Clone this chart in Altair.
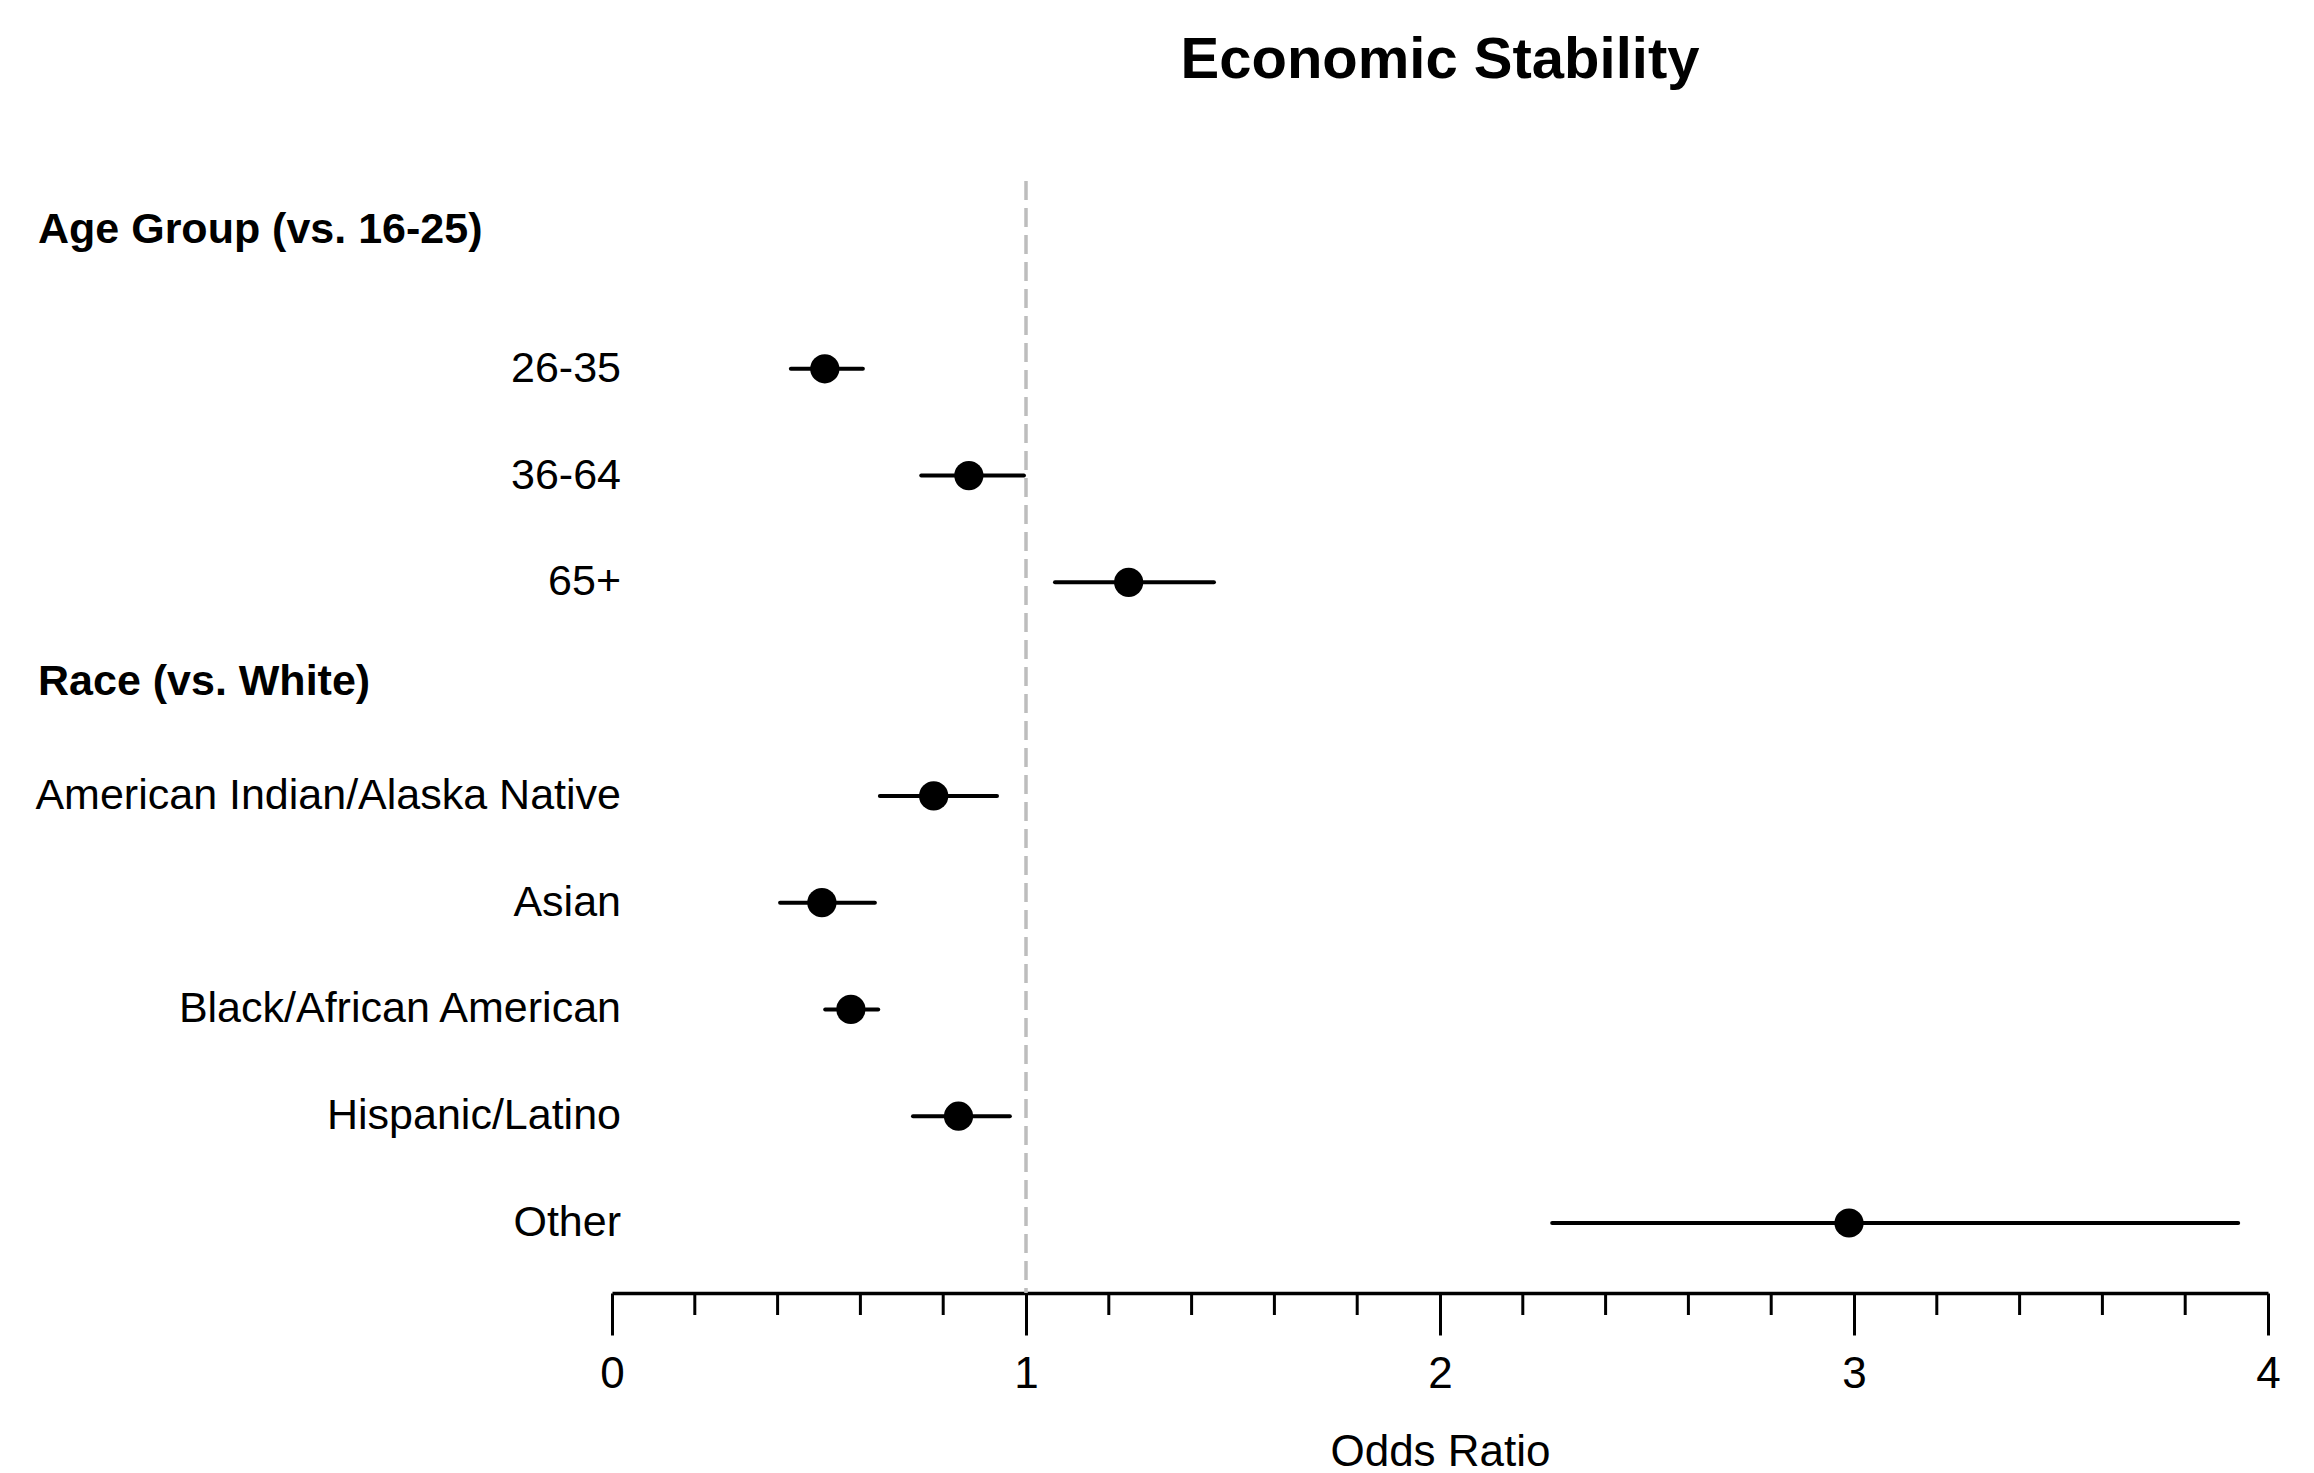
import altair as alt
import pandas as pd

# ---- data ----
title_text = "Economic Stability"
x_title = "Odds Ratio"
header_age = "Age Group (vs. 16-25)"
header_race = "Race (vs. White)"
age_categories = ["26-35", "36-64", "65+"]
race_categories = ["American Indian/Alaska Native", "Asian", "Black/African American",
                   "Hispanic/Latino", "Other"]
odds_ratio = [0.514, 0.862, 1.248, 0.777, 0.507, 0.577, 0.837, 2.988]
ci_lower = [0.432, 0.747, 1.070, 0.647, 0.406, 0.515, 0.727, 2.271]
ci_upper = [0.606, 0.995, 1.454, 0.930, 0.635, 0.643, 0.961, 3.928]
reference_value = 1.0
major_ticks = [0, 1, 2, 3, 4]
minor_ticks = [0.2, 0.4, 0.6, 0.8, 1.2, 1.4, 1.6, 1.8, 2.2, 2.4, 2.6, 2.8,
               3.2, 3.4, 3.6, 3.8]

categories = age_categories + race_categories
row_order = [header_age] + age_categories + [header_race] + race_categories

df = pd.DataFrame({"cat": categories, "or": odds_ratio, "lo": ci_lower, "hi": ci_upper})

W, H = 1656, 1112
FONT = "Liberation Sans"

xscale = alt.Scale(domain=[0, 4], nice=False, zero=True)
xaxis = alt.Axis(values=major_ticks, format="d", title=x_title, grid=False,
                 domainColor="black", domainWidth=3.5, domainCap="butt",
                 tickColor="black", tickWidth=3, tickSize=42,
                 labelFont=FONT, labelFontSize=44, labelColor="black", labelPadding=17,
                 labelFlush=False,
                 titleFont=FONT, titleFontSize=44, titleFontWeight="normal",
                 titleColor="black", titlePadding=34)
yscale = alt.Scale(type="point", domain=row_order, range=[81, 1042], padding=0)


def X(field):
    return alt.X(field, type="quantitative", scale=xscale, axis=xaxis)


def Y(field):
    return alt.Y(field, type="nominal", scale=yscale, axis=None)


ref = alt.Chart(pd.DataFrame({"ref": [reference_value]})).mark_rule(
    color="#bdbdbd", strokeWidth=3.5, strokeDash=[19, 8]
).encode(x=X("ref"))

bars = alt.Chart(df).mark_rule(color="black", strokeWidth=4, strokeCap="round").encode(
    x=X("lo"), x2=alt.X2("hi"), y=Y("cat")
)

points = alt.Chart(df).mark_circle(color="black", opacity=1, size=855).encode(
    x=X("or"), y=Y("cat")
)

labels = alt.Chart(df).mark_text(
    align="right", baseline="middle", font=FONT, fontSize=43, color="black"
).encode(x=alt.value(9), y=Y("cat"), text="cat:N")

hdr_age = alt.Chart(pd.DataFrame({"h": [header_age]})).mark_text(
    align="left", baseline="middle", font=FONT, fontSize=43, fontWeight="bold",
    color="black", dy=-32
).encode(x=alt.value(-574), y=Y("h"), text="h:N")

hdr_race = alt.Chart(pd.DataFrame({"h": [header_race]})).mark_text(
    align="left", baseline="middle", font=FONT, fontSize=43, fontWeight="bold",
    color="black", dy=-7
).encode(x=alt.value(-574), y=Y("h"), text="h:N")

minor = alt.Chart(pd.DataFrame({"v": minor_ticks})).mark_rule(
    color="black", strokeWidth=3
).encode(x=X("v"), y=alt.value(H), y2=alt.value(H + 22))

title = alt.Chart(pd.DataFrame({"t": [title_text]})).mark_text(
    align="center", baseline="middle", font=FONT, fontSize=58, fontWeight="bold",
    color="black"
).encode(x=alt.value(W / 2), y=alt.value(-120), text="t:N")

chart = alt.layer(ref, bars, points, labels, hdr_age, hdr_race, minor, title).properties(
    width=W, height=H,
    autosize=alt.AutoSizeParams(type="none"),
    padding={"left": 604, "top": 173, "right": 38, "bottom": 178},
).configure(background="white").configure_view(stroke=None, strokeWidth=0)

chart.save("out.html", embed_options={"renderer": "svg", "actions": False})
